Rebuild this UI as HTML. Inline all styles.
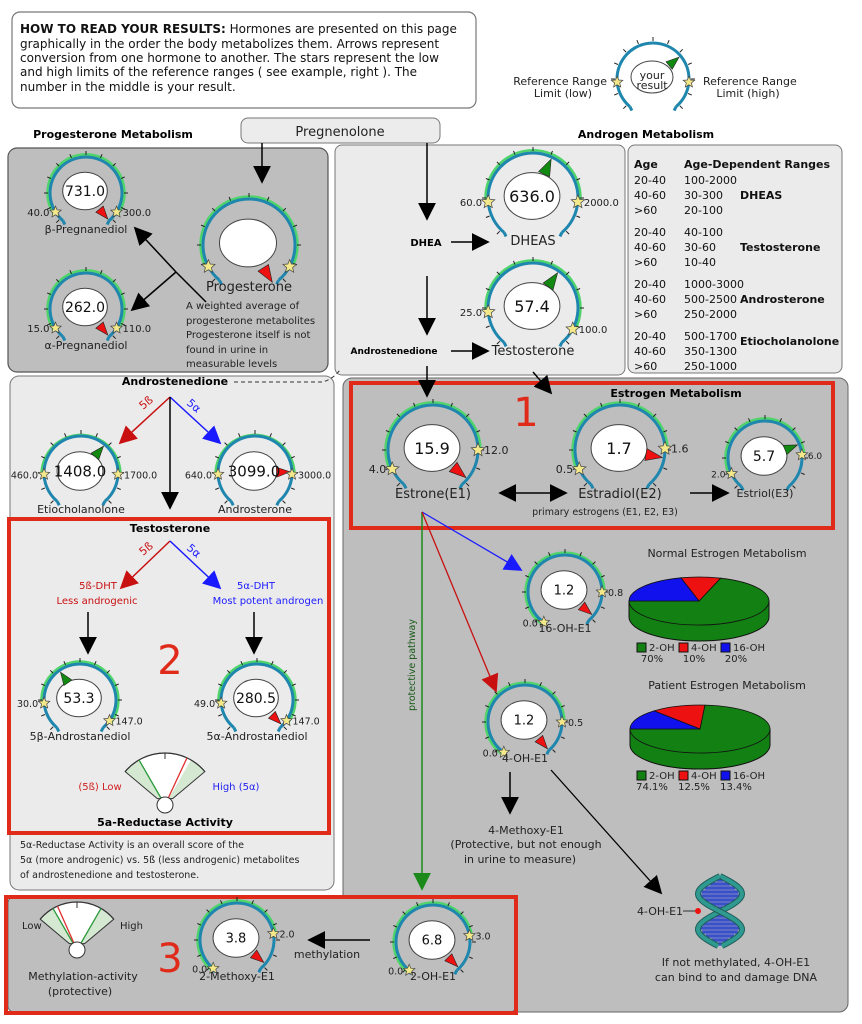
<!DOCTYPE html>
<html><head><meta charset="utf-8">
<style>
html,body{margin:0;padding:0;background:#fff;}
svg{display:block;font-family:"DejaVu Sans","Liberation Sans",sans-serif;}
</style></head>
<body>
<svg id="s" width="862" height="1024" viewBox="0 0 862 1024" xmlns="http://www.w3.org/2000/svg">
<defs>
<marker id="ab" viewBox="0 0 10 10" markerWidth="18" markerHeight="18" refX="9" refY="5" orient="auto" markerUnits="userSpaceOnUse"><path d="M0,0 L10,5 L0,10z" fill="#000"/></marker>
<marker id="abs" viewBox="0 0 10 10" markerWidth="18" markerHeight="18" refX="1" refY="5" orient="auto" markerUnits="userSpaceOnUse"><path d="M10,0 L0,5 L10,10z" fill="#000"/></marker>
<marker id="ar" viewBox="0 0 10 10" markerWidth="18" markerHeight="18" refX="9" refY="5" orient="auto" markerUnits="userSpaceOnUse"><path d="M0,0 L10,5 L0,10z" fill="#c81010"/></marker>
<marker id="au" viewBox="0 0 10 10" markerWidth="18" markerHeight="18" refX="9" refY="5" orient="auto" markerUnits="userSpaceOnUse"><path d="M0,0 L10,5 L0,10z" fill="#1a1aff"/></marker>
<marker id="ag" viewBox="0 0 10 10" markerWidth="18" markerHeight="18" refX="9" refY="5" orient="auto" markerUnits="userSpaceOnUse"><path d="M0,0 L10,5 L0,10z" fill="#1b8a1b"/></marker>
</defs>

<rect x="12" y="12" width="464" height="96" rx="8" fill="#fff" stroke="#777" stroke-width="1.2"/>
<rect x="241" y="118" width="199" height="25" rx="7" fill="#ececec" stroke="#777"/>
<rect x="8" y="148" width="320" height="224" rx="9" fill="#bebebe" stroke="#555" stroke-width="1.2"/>
<rect x="335" y="145" width="290" height="230" rx="7" fill="#ecebec" stroke="#777"/>
<rect x="628" y="145" width="214" height="228" rx="7" fill="#ecebec" stroke="#777"/>
<rect x="10" y="376" width="324" height="514" rx="9" fill="#ecebec" stroke="#777"/>
<rect x="343" y="378" width="505" height="634" rx="9" fill="#bebebe" stroke="#666"/>
<rect x="8" y="897" width="508" height="115" rx="6" fill="#bebebe" stroke="#666"/>
<rect x="351" y="383" width="482" height="145" fill="none" stroke="#e02a1a" stroke-width="4"/>
<rect x="9" y="519" width="320" height="314" fill="none" stroke="#e02a1a" stroke-width="4"/>
<rect x="6" y="897" width="510" height="116" fill="none" stroke="#e02a1a" stroke-width="4"/>

<g font-size="12" fill="#111">
<text x="20" y="33"><tspan font-weight="bold">HOW TO READ YOUR RESULTS:</tspan>  Hormones are presented on this page</text>
<text x="20" y="48">graphically in the order the body metabolizes them.  Arrows represent</text>
<text x="20" y="62">conversion from one hormone to another.  The stars represent the low</text>
<text x="20" y="76">and high limits of the reference ranges ( see example, right ).  The</text>
<text x="20" y="91">number in the middle is your result.</text>
</g>
<g font-size="11" fill="#222">
<text x="607" y="85" text-anchor="end">Reference Range</text>
<text x="563" y="97" text-anchor="middle">Limit (low)</text>
<text x="703" y="85">Reference Range</text>
<text x="748" y="97" text-anchor="middle">Limit (high)</text>
</g>
<text x="113" y="138" font-size="11" font-weight="bold" text-anchor="middle">Progesterone Metabolism</text>
<text x="646" y="138" font-size="11" font-weight="bold" text-anchor="middle">Androgen Metabolism</text>
<text x="340" y="136" font-size="13" text-anchor="middle" fill="#222">Pregnenolone</text>

<line x1="262" y1="143" x2="262" y2="182" stroke="#000" stroke-width="1.5" marker-end="url(#ab)"/>
<polyline points="176,272 206,302" fill="none" stroke="#000" stroke-width="1.5"/>
<line x1="176" y1="272" x2="135" y2="228" stroke="#000" stroke-width="1.5" marker-end="url(#ab)"/>
<line x1="176" y1="272" x2="132" y2="310" stroke="#000" stroke-width="1.5" marker-end="url(#ab)"/>
<g font-size="10" fill="#222">
<text x="186" y="309">A weighted average of</text>
<text x="186" y="324">progesterone  metabolites</text>
<text x="186" y="338">Progesterone itself is not</text>
<text x="186" y="353">found in urine in</text>
<text x="186" y="367">measurable levels</text>
</g>

<line x1="427" y1="143" x2="427" y2="219" stroke="#000" stroke-width="1.5" marker-end="url(#ab)"/>
<text x="426" y="246" font-size="10" font-weight="bold" text-anchor="middle">DHEA</text>
<line x1="451" y1="242" x2="488" y2="242" stroke="#000" stroke-width="1.5" marker-end="url(#ab)"/>
<line x1="427" y1="276" x2="427" y2="334" stroke="#000" stroke-width="1.5" marker-end="url(#ab)"/>
<text x="394" y="354" font-size="9" font-weight="bold" text-anchor="middle">Androstenedione</text>
<line x1="451" y1="351" x2="488" y2="351" stroke="#000" stroke-width="1.5" marker-end="url(#ab)"/>
<line x1="427" y1="366" x2="427" y2="396" stroke="#000" stroke-width="1.5" marker-end="url(#ab)"/>
<line x1="533" y1="372" x2="551" y2="393" stroke="#000" stroke-width="1.5" marker-end="url(#ab)"/>

<g font-size="11" fill="#111">
<text x="634" y="168" font-weight="bold">Age</text><text x="684" y="168" font-weight="bold">Age-Dependent Ranges</text>
<text x="634" y="184">20-40</text><text x="684" y="184">100-2000</text>
<text x="634" y="199">40-60</text><text x="684" y="199">30-300</text><text x="740" y="199" font-weight="bold">DHEAS</text>
<text x="634" y="214">&gt;60</text><text x="684" y="214">20-100</text>
<text x="634" y="236">20-40</text><text x="684" y="236">40-100</text>
<text x="634" y="251">40-60</text><text x="684" y="251">30-60</text><text x="740" y="251" font-weight="bold">Testosterone</text>
<text x="634" y="266">&gt;60</text><text x="684" y="266">10-40</text>
<text x="634" y="288">20-40</text><text x="684" y="288">1000-3000</text>
<text x="634" y="303">40-60</text><text x="684" y="303">500-2500</text><text x="740" y="303" font-weight="bold">Androsterone</text>
<text x="634" y="318">&gt;60</text><text x="684" y="318">250-2000</text>
<text x="634" y="340">20-40</text><text x="684" y="340">500-1700</text><text x="740" y="345" font-weight="bold">Etiocholanolone</text>
<text x="634" y="355">40-60</text><text x="684" y="355">350-1300</text>
<text x="634" y="370">&gt;60</text><text x="684" y="370">250-1000</text>
</g>

<text x="175" y="385" font-size="11" font-weight="bold" text-anchor="middle">Androstenedione</text>
<path d="M234,382 L322,382 Q332,380 340,370" fill="none" stroke="#333" stroke-dasharray="4,3"/>
<line x1="170" y1="397" x2="120" y2="443" stroke="#c81010" stroke-width="1.5" marker-end="url(#ar)"/>
<line x1="170" y1="397" x2="220" y2="443" stroke="#1a1aff" stroke-width="1.5" marker-end="url(#au)"/>
<line x1="170" y1="397" x2="170" y2="508" stroke="#000" stroke-width="1.5" marker-end="url(#ab)"/>
<text x="143" y="410" font-size="11" fill="#c81010" transform="rotate(-40 143 410)">5ß</text>
<text x="186" y="404" font-size="11" fill="#1a1aff" transform="rotate(40 186 404)">5α</text>
<text x="170" y="532" font-size="11" font-weight="bold" text-anchor="middle">Testosterone</text>
<line x1="170" y1="541" x2="121" y2="588" stroke="#c81010" stroke-width="1.5" marker-end="url(#ar)"/>
<line x1="170" y1="541" x2="220" y2="588" stroke="#1a1aff" stroke-width="1.5" marker-end="url(#au)"/>
<text x="143" y="556" font-size="11" fill="#c81010" transform="rotate(-40 143 556)">5ß</text>
<text x="186" y="549" font-size="11" fill="#1a1aff" transform="rotate(40 186 549)">5α</text>
<g font-size="10">
<text x="98" y="589" fill="#c81010" text-anchor="middle">5ß-DHT</text>
<text x="97" y="604" fill="#c81010" text-anchor="middle">Less androgenic</text>
<text x="256" y="589" fill="#1a1aff" text-anchor="middle">5α-DHT</text>
<text x="268" y="604" fill="#1a1aff" text-anchor="middle">Most potent androgen</text>
</g>
<line x1="88" y1="612" x2="88" y2="653" stroke="#000" stroke-width="1.5" marker-end="url(#ab)"/>
<line x1="254" y1="612" x2="254" y2="653" stroke="#000" stroke-width="1.5" marker-end="url(#ab)"/>
<text x="170" y="674" font-size="40" fill="#e02a1a" text-anchor="middle">2</text>

<g id="fan1"></g>
<text x="100" y="790" font-size="10" fill="#d02020" text-anchor="middle">(5ß)  Low</text>
<text x="236" y="790" font-size="10" fill="#2222ee" text-anchor="middle">High  (5α)</text>
<text x="165" y="826" font-size="11" font-weight="bold" text-anchor="middle">5a-Reductase Activity</text>
<g font-size="9.5" fill="#222">
<text x="20" y="848">5α-Reductase Activity is an overall score of the</text>
<text x="20" y="863">5α (more androgenic) vs. 5ß (less androgenic) metabolites</text>
<text x="20" y="878">of androstenedione and testosterone.</text>
</g>

<text x="22" y="929" font-size="10" fill="#222">Low</text>
<text x="120" y="929" font-size="10" fill="#222">High</text>
<text x="83" y="980" font-size="11" fill="#222" text-anchor="middle">Methylation-activity</text>
<text x="80" y="995" font-size="11" fill="#222" text-anchor="middle">(protective)</text>
<text x="170" y="972" font-size="40" fill="#e02a1a" text-anchor="middle">3</text>
<line x1="370" y1="940" x2="309" y2="940" stroke="#000" stroke-width="1.5" marker-end="url(#ab)"/>
<text x="327" y="958" font-size="11" fill="#222" text-anchor="middle">methylation</text>

<text x="676" y="397" font-size="11" font-weight="bold" text-anchor="middle">Estrogen Metabolism</text>
<text x="526" y="426" font-size="40" fill="#e02a1a" text-anchor="middle">1</text>
<line x1="500" y1="493" x2="566" y2="493" stroke="#000" stroke-width="1.5" marker-start="url(#abs)" marker-end="url(#ab)"/>
<line x1="690" y1="493" x2="728" y2="493" stroke="#000" stroke-width="1.5" marker-end="url(#ab)"/>
<text x="605" y="515" font-size="9.5" fill="#222" text-anchor="middle">primary estrogens (E1, E2, E3)</text>
<line x1="422" y1="512" x2="422" y2="889" stroke="#1b8a1b" stroke-width="1.5" marker-end="url(#ag)"/>
<line x1="422" y1="512" x2="521" y2="570" stroke="#1a1aff" stroke-width="1.3" marker-end="url(#au)"/>
<line x1="422" y1="512" x2="496" y2="691" stroke="#c81010" stroke-width="1.3" marker-end="url(#ar)"/>
<text x="415" y="665" font-size="9.5" fill="#1a5a1a" text-anchor="middle" transform="rotate(-90 415 665)">protective pathway</text>
<line x1="510" y1="772" x2="510" y2="813" stroke="#000" stroke-width="1.5" marker-end="url(#ab)"/>
<line x1="551" y1="770" x2="661" y2="893" stroke="#000" stroke-width="1.3" marker-end="url(#ab)"/>
<g font-size="11" fill="#222" text-anchor="middle">
<text x="526" y="834">4-Methoxy-E1</text>
<text x="526" y="848">(Protective, but not enough</text>
<text x="520" y="863">in urine to measure)</text>
<text x="736" y="966">If not methylated, 4-OH-E1</text>
<text x="736" y="981">can bind to and damage DNA</text>
</g>
<text x="660" y="915" font-size="11" fill="#222" text-anchor="middle">4-OH-E1</text>
<line x1="683" y1="911" x2="697" y2="911" stroke="#333"/>
<g id="dna"></g>

<g font-size="11" fill="#222" text-anchor="middle">
<text x="727" y="557">Normal Estrogen Metabolism</text>
<text x="727" y="689">Patient Estrogen Metabolism</text>
</g>
<g id="pies"></g>
<g id="gauges"></g>
</svg>
<script>
(function(){
var S=function(id){return document.getElementById(id);};
function pt(cx,cy,r,a){var t=a*Math.PI/180;return [cx+r*Math.sin(t),cy-r*Math.cos(t)];}
function arc(cx,cy,r,a1,a2){var p=pt(cx,cy,r,a1),q=pt(cx,cy,r,a2);return 'M'+p[0].toFixed(1)+','+p[1].toFixed(1)+' A'+r+','+r+' 0 '+((a2-a1)>180?1:0)+' 1 '+q[0].toFixed(1)+','+q[1].toFixed(1);}
function star(x,y,R){var s='';for(var i=0;i<10;i++){var rr=i%2?R*0.45:R;var a=i*36*Math.PI/180;s+=(x+rr*Math.sin(a)).toFixed(1)+','+(y-rr*Math.cos(a)).toFixed(1)+' ';}return '<polygon points="'+s+'" fill="#f4e98a" stroke="#444" stroke-width="0.7"/>';}
function gauge(g){
 var cx=g.cx,cy=g.cy,r=g.r,h='';
 if(!g.nog) h+='<path d="'+arc(cx,cy,r+2.5,g.la,g.ha)+'" fill="none" stroke="#4fd46a" stroke-width="2.5"/>';
 h+='<path d="'+arc(cx,cy,r,-140,140)+'" fill="none" stroke="#1f86ad" stroke-width="3"/>';
 var e1=pt(cx,cy,r,-140),e2=pt(cx,cy,r,140);
 h+='<line x1="'+e1[0]+'" y1="'+e1[1]+'" x2="'+(e1[0]+2)+'" y2="'+(e1[1]+4)+'" stroke="#1f86ad" stroke-width="3"/>';
 h+='<line x1="'+e2[0]+'" y1="'+e2[1]+'" x2="'+(e2[0]-2)+'" y2="'+(e2[1]+4)+'" stroke="#1f86ad" stroke-width="3"/>';
 for(var a=-135;a<=135;a+=22.5){var p=pt(cx,cy,r+2,a),q=pt(cx,cy,r+6,a);h+='<line x1="'+p[0].toFixed(1)+'" y1="'+p[1].toFixed(1)+'" x2="'+q[0].toFixed(1)+'" y2="'+q[1].toFixed(1)+'" stroke="#222" stroke-width="1"/>';}
 var ex=g.ex||r*0.62,ey=g.ey||r*0.52;
 h+='<ellipse cx="'+(cx-1)+'" cy="'+(cy-2)+'" rx="'+ex+'" ry="'+ey+'" fill="#fff" stroke="#444" stroke-width="1"/>';
 var t=pt(cx,cy,r-2,g.pa),b1=pt(cx,cy,r*0.6,g.pa-13),b2=pt(cx,cy,r*0.6,g.pa+13);
 h+='<polygon points="'+t.join(',')+' '+b1.join(',')+' '+b2.join(',')+'" fill="'+(g.pc=='g'?'#128a12':'#ee1111')+'" stroke="#222" stroke-width="0.6"/>';
 var ls=pt(cx,cy,r,g.la),hs=pt(cx,cy,r,g.ha);
 h+=star(ls[0],ls[1],g.sr||6)+star(hs[0],hs[1],g.sr||6);
 var lf=g.lf||10;
 if(g.lo) h+='<text x="'+(ls[0]-6)+'" y="'+(ls[1]+4)+'" font-size="'+lf+'" text-anchor="end" fill="#222">'+g.lo+'</text>';
 if(g.hi) h+='<text x="'+(hs[0]+6)+'" y="'+(hs[1]+4)+'" font-size="'+lf+'" fill="#222">'+g.hi+'</text>';
 if(g.v) h+='<text x="'+(cx-1)+'" y="'+(cy-2+(g.vf||15)*0.36)+'" font-size="'+(g.vf||15)+'" text-anchor="middle" fill="#111">'+g.v+'</text>';
 if(g.name) h+='<text x="'+cx+'" y="'+g.ny+'" font-size="'+(g.nf||11)+'" text-anchor="middle" fill="#222">'+g.name+'</text>';
 return h;
}
var G=[
{cx:86,cy:193,r:36,v:'731.0',lo:'40.0',hi:'300.0',la:-122,ha:122,pa:140,pc:'r',name:'β-Pregnanediol',ny:233,vf:14},
{cx:86,cy:309,r:36,v:'262.0',lo:'15.0',hi:'110.0',la:-122,ha:122,pa:140,pc:'r',name:'α-Pregnanediol',ny:349,vf:14},
{cx:249,cy:245,r:46,v:'',la:-118,ha:118,pa:148,pc:'r',name:'Progesterone',ny:291,nf:13,sr:7},
{cx:533,cy:198,r:45,v:'636.0',lo:'60.0',hi:'2000.0',la:-95,ha:95,pa:25,pc:'g',name:'DHEAS',ny:245,nf:13,vf:16,sr:7},
{cx:533,cy:308,r:45,v:'57.4',lo:'25.0',hi:'100.0',la:-95,ha:118,pa:35,pc:'g',name:'Testosterone',ny:355,nf:13,vf:16,sr:7},
{cx:81,cy:473,r:37,v:'1408.0',lo:'460.0',hi:'1700.0',la:-92,ha:92,pa:40,pc:'g',name:'Etiocholanolone',ny:513,vf:15,lf:9.5},
{cx:255,cy:473,r:37,v:'3099.0',lo:'640.0',hi:'3000.0',la:-92,ha:92,pa:88,pc:'r',name:'Androsterone',ny:513,vf:15,lf:9.5},
{cx:80,cy:700,r:36,v:'53.3',lo:'30.0',hi:'147.0',la:-95,ha:125,pa:-35,pc:'g',name:'5β-Androstanediol',ny:740,vf:14,lf:9.5},
{cx:257,cy:700,r:36,v:'280.5',lo:'49.0',hi:'147.0',la:-95,ha:125,pa:135,pc:'r',name:'5α-Androstanediol',ny:740,vf:14,lf:9.5},
{cx:433,cy:450,r:45,v:'15.9',lo:'4.0',hi:'12.0',la:-115,ha:90,pa:130,pc:'r',name:'Estrone(E1)',ny:498,nf:13,vf:16,sr:7,lf:11},
{cx:620,cy:450,r:45,v:'1.7',lo:'0.5',hi:'1.6',la:-115,ha:88,pa:100,pc:'r',name:'Estradiol(E2)',ny:498,nf:13,vf:16,sr:7,lf:11},
{cx:765,cy:458,r:37,v:'5.7',lo:'2.0',hi:'6.0',la:-115,ha:85,pa:68,pc:'g',name:'Estriol(E3)',ny:497,vf:14,lf:9},
{cx:565,cy:592,r:37,v:'1.2',lo:'0.0',hi:'0.8',la:-145,ha:90,pa:130,pc:'r',name:'16-OH-E1',ny:632,vf:13,lf:9.5},
{cx:525,cy:722,r:37,v:'1.2',lo:'0.0',hi:'0.5',la:-145,ha:90,pa:140,pc:'r',name:'4-OH-E1',ny:762,vf:13,lf:9.5},
{cx:237,cy:940,r:37,v:'3.8',lo:'0.0',hi:'2.0',la:-140,ha:80,pa:130,pc:'r',name:'2-Methoxy-E1',ny:980,vf:13,lf:9.5},
{cx:433,cy:942,r:37,v:'6.8',lo:'0.0',hi:'3.0',la:-140,ha:80,pa:135,pc:'r',name:'2-OH-E1',ny:980,vf:13,lf:9.5},
{cx:653,cy:79,r:36,v:'',la:-95,ha:95,pa:50,pc:'g',nog:1,ex:21,ey:16}
];
var h='';G.forEach(function(g){h+=gauge(g);});
h+='<text x="652" y="79" font-size="11" text-anchor="middle" fill="#222">your</text><text x="652" y="89" font-size="11" text-anchor="middle" fill="#222">result</text>';
S('gauges').innerHTML=h;

function fan(cx,cy,R,lines){
 var f='';var p=pt(cx,cy,R,-50),q=pt(cx,cy,R,50),a=pt(cx,cy,10,-50),b=pt(cx,cy,10,50);
 f+='<path d="M'+a+' L'+p+' A'+R+','+R+' 0 0 1 '+q+' L'+b+' Z" fill="#d4e8d2" stroke="#333" stroke-width="1"/>';
 var w1=pt(cx,cy,R,-30),w2=pt(cx,cy,R,30);
 f+='<path d="M'+cx+','+cy+' L'+w1+' A'+R+','+R+' 0 0 1 '+w2+' Z" fill="#fff"/>';
 f+='<path d="M'+p+' A'+R+','+R+' 0 0 1 '+q+'" fill="none" stroke="#333" stroke-width="1.2"/>';
 var t1=pt(cx,cy,R,0),t2=pt(cx,cy,R-6,0);f+='<line x1="'+t1[0]+'" y1="'+t1[1]+'" x2="'+t2[0]+'" y2="'+t2[1]+'" stroke="#333"/>';
 lines.forEach(function(l){var e=pt(cx,cy,R,l[0]);f+='<line x1="'+cx+'" y1="'+cy+'" x2="'+e[0]+'" y2="'+e[1]+'" stroke="'+l[1]+'" stroke-width="1.3"/>';});
 f+='<circle cx="'+cx+'" cy="'+cy+'" r="8" fill="#fff" stroke="#333"/>';
 return f;
}
S('fan1').innerHTML=fan(165,805,52,[[-30,'#2a9a3a'],[25,'#e03030']]);
document.getElementById('s').insertAdjacentHTML('beforeend','<g>'+fan(77,950,48,[[-30,'#2a9a3a'],[30,'#2a9a3a'],[-24,'#e03030']])+'</g>');

function pie(cx,cy,rx,ry,d,sl,ly,labs){
 var o='';
 o+='<path d="M'+(cx-rx)+','+cy+' L'+(cx-rx)+','+(cy+d)+' A'+rx+','+ry+' 0 0 0 '+(cx+rx)+','+(cy+d)+' L'+(cx+rx)+','+cy+' Z" fill="#138013" stroke="#111"/>';
 function P(a){var t=a*Math.PI/180;return (cx+rx*Math.cos(t)).toFixed(1)+','+(cy-ry*Math.sin(t)).toFixed(1);}
 sl.forEach(function(s){var a1=s[0],a2=s[1];o+='<path d="M'+cx+','+cy+' L'+P(a1)+' A'+rx+','+ry+' 0 '+((a2-a1)>180?1:0)+' 0 '+P(a2)+' Z" fill="'+s[2]+'" stroke="#111" stroke-width="0.8"/>';});
 var cols=['#138013','#ee1111','#1111ee'],names=['2-OH','4-OH','16-OH'],xs=[637,679,721];
 for(var i=0;i<3;i++){o+='<rect x="'+xs[i]+'" y="'+(ly-8)+'" width="9" height="9" fill="'+cols[i]+'" stroke="#111"/><text x="'+(xs[i]+12)+'" y="'+ly+'" font-size="10" fill="#222">'+names[i]+'</text><text x="'+(xs[i]+15)+'" y="'+(ly+11)+'" font-size="10" fill="#222" text-anchor="middle">'+labs[i]+'</text>';}
 return o;
}
S('pies').innerHTML=pie(699,601,70,24,16,[[-180,72,'#138013'],[72,105,'#ee1111'],[105,180,'#1111ee']],651,['70%','10%','20%'])+
 pie(700,729,70,24,16,[[-180,86,'#138013'],[86,131,'#ee1111'],[131,180,'#1111ee']],779,['74.1%','12.5%','13.4%']);

var d='';
for(var y=880;y<=944;y+=4){var w=19*Math.abs(Math.sin((y-878)/67*Math.PI*2));d+='<line x1="'+(720-w)+'" y1="'+y+'" x2="'+(720+w)+'" y2="'+y+'" stroke="#3a50c8" stroke-width="3.5"/>';}
var p1='',p2='';for(var y=876;y<=947;y+=2){var t=(y-876)/71*Math.PI*2;p1+=(y==876?'M':'L')+(720+22*Math.sin(t)).toFixed(1)+','+y+' ';p2+=(y==876?'M':'L')+(720-22*Math.sin(t)).toFixed(1)+','+y+' ';}
d+='<path d="'+p1+'" fill="none" stroke="#1f5e5a" stroke-width="6"/><path d="'+p1+'" fill="none" stroke="#2f9a90" stroke-width="4"/>';
d+='<path d="'+p2+'" fill="none" stroke="#1f5e5a" stroke-width="6"/><path d="'+p2+'" fill="none" stroke="#2f9a90" stroke-width="4"/>';
d+='<circle cx="698" cy="911" r="3" fill="#ee1111"/>';
S('dna').innerHTML=d;
})();
</script>
</body></html>
